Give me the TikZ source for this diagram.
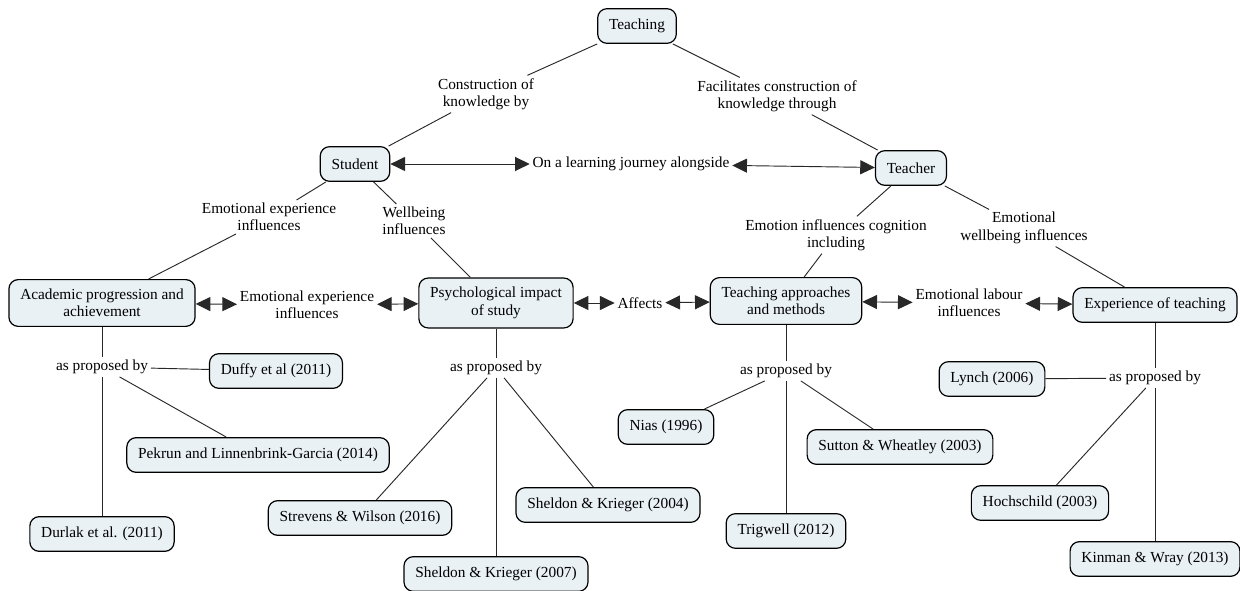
\documentclass[tikz,border=0pt]{standalone}
\usepackage{fontspec}
\setmainfont{Liberation Serif}
\usetikzlibrary{arrows.meta}
\definecolor{cmapfill}{RGB}{233,241,245}
\definecolor{cmapline}{RGB}{40,40,40}

\begin{document}
\begin{tikzpicture}[x=0.75pt, y=-0.75pt,
		concept/.style={draw=black, line width=0.9pt, fill=cmapfill, rounded corners=7pt, align=center, inner xsep=8.5pt, inner ysep=7pt, minimum height=26pt, font=\fontsize{11.5}{13}\selectfont},
		linkword/.style={fill=white, align=center, inner sep=2pt, font=\fontsize{11.5}{13}\selectfont},
		link/.style={draw=cmapline, line width=0.7pt},
		twoway/.style={link, {Triangle[length=11pt,width=10.5pt]}-{Triangle[length=11pt,width=10.5pt]}}]
			\useasboundingbox (0,0) rectangle (1240,591);
			\node[concept] (teaching) at (637,26) {Teaching};
			\node[linkword] (constr) at (486,94) {Construction of\\knowledge by};
			\node[linkword] (facil) at (777,96) {Facilitates construction of\\knowledge through};
			\node[concept] (student) at (355,164) {Student};
			\node[concept] (teacher) at (911,168) {Teacher};
			\node[linkword] (journey) at (631,164) {On a learning journey alongside};
			\node[linkword] (emoexp) at (269,217) {Emotional experience\\influences};
			\node[linkword] (wellb) at (414,221) {Wellbeing\\influences};
			\node[linkword] (emoinf) at (836,235) {Emotion influences cognition\\including};
			\node[linkword] (emowell) at (1024,228) {Emotional\\wellbeing influences};
			\node[concept] (academic) at (102,303) {Academic progression and\\achievement};
			\node[linkword] (emolink) at (307,305) {Emotional experience\\influences};
			\node[concept] (psych) at (496,303) {Psychological impact\\of study};
			\node[linkword] (affects) at (640,303) {Affects};
			\node[concept] (approaches) at (786,301) {Teaching approaches\\and methods};
			\node[linkword] (labour) at (969,303) {Emotional labour\\influences};
			\node[concept] (experience) at (1155,305) {Experience of teaching};
			\node[linkword] (apbA) at (102,367) {as proposed by};
			\node[concept] (duffy) at (276,371) {Duffy et al (2011)};
			\node[concept] (pekrun) at (258,455) {Pekrun and Linnenbrink-Garcia (2014)};
			\node[concept] (durlak) at (102,534) {Durlak et al. (2011)};
			\node[linkword] (apbB) at (496,368) {as proposed by};
			\node[concept] (strevens) at (360,518) {Strevens \& Wilson (2016)};
			\node[concept] (sheldonA) at (608,505) {Sheldon \& Krieger (2004)};
			\node[concept] (sheldonB) at (496,574) {Sheldon \& Krieger (2007)};
			\node[linkword] (apbC) at (786,371) {as proposed by};
			\node[concept] (nias) at (666,427) {Nias (1996)};
			\node[concept] (sutton) at (900,447) {Sutton \& Wheatley (2003)};
			\node[concept] (trigwell) at (786,531) {Trigwell (2012)};
			\node[linkword] (apbD) at (1155,378) {as proposed by};
			\node[concept] (lynch) at (992,379) {Lynch (2006)};
			\node[concept] (hoch) at (1040,503) {Hochschild (2003)};
			\node[concept] (kinman) at (1155,559) {Kinman \& Wray (2013)};
			\draw[link] (teaching) -- (constr);
			\draw[link] (constr) -- (student);
			\draw[link] (teaching) -- (facil);
			\draw[link] (facil) -- (teacher);
			\draw[twoway] (student) -- (journey);
			\draw[twoway] (journey) -- (teacher);
			\draw[link] (student) -- (emoexp);
			\draw[link] (emoexp) -- (academic);
			\draw[link] (student) -- (wellb);
			\draw[link] (wellb) -- (psych);
			\draw[link] (teacher) -- (emoinf);
			\draw[link] (emoinf) -- (approaches);
			\draw[link] (teacher) -- (emowell);
			\draw[link] (emowell) -- (experience);
			\draw[twoway] (academic) -- (emolink);
			\draw[twoway] (emolink) -- (psych);
			\draw[twoway] (psych) -- (affects);
			\draw[twoway] (affects) -- (approaches);
			\draw[twoway] (approaches) -- (labour);
			\draw[twoway] (labour) -- (experience);
			\draw[link] (academic) -- (apbA);
			\draw[link] (apbA) -- (duffy);
			\draw[link] (apbA) -- (pekrun);
			\draw[link] (apbA) -- (durlak);
			\draw[link] (psych) -- (apbB);
			\draw[link] (apbB) -- (strevens);
			\draw[link] (apbB) -- (sheldonA);
			\draw[link] (apbB) -- (sheldonB);
			\draw[link] (approaches) -- (apbC);
			\draw[link] (apbC) -- (nias);
			\draw[link] (apbC) -- (sutton);
			\draw[link] (apbC) -- (trigwell);
			\draw[link] (experience) -- (apbD);
			\draw[link] (lynch) -- (apbD);
			\draw[link] (apbD) -- (hoch);
			\draw[link] (apbD) -- (kinman);
			\end{tikzpicture}
\end{document}
